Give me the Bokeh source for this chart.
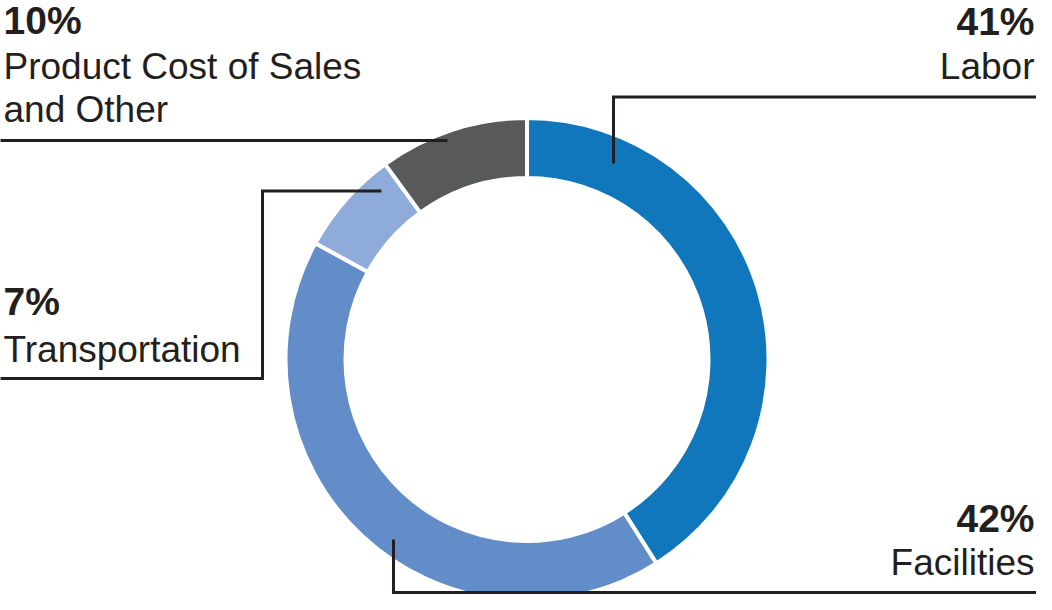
import numpy as np
from bokeh.plotting import figure
from bokeh.models import Range1d, ColumnDataSource
from bokeh.embed import file_html
from bokeh.resources import INLINE
from bokeh.core.properties import value

# ---- data ----
categories = ["Labor", "Facilities", "Transportation", "Product Cost of Sales\nand Other"]
shares = [41, 42, 7, 10]
colors = ["#1177bd", "#628dc9", "#8eabda", "#58595b"]

# ---- layout (figure pixel coordinates; y measured downward) ----
W, H = 1036, 594
cx, cy = 526.5, 359.0
r_outer, r_inner = 239.5, 183.5
gap = 4
ink = "#231f20"
font = "Liberation Sans"
bold_shift, reg_shift = 14, 13   # renderer places alphabetic baseline lower by this much

p = figure(width=W, height=H,
           x_range=Range1d(0, W), y_range=Range1d(-H, 0),
           x_axis_location=None, y_axis_location=None,
           output_backend="svg", toolbar_location=None, min_border=0)
p.grid.visible = False
p.outline_line_color = None
p.background_fill_color = "white"
p.border_fill_color = "white"

# ---- donut ----
vals = np.array(shares, dtype=float)
frac = vals / vals.sum()
cum = np.concatenate([[0.0], np.cumsum(frac)])
start = np.radians(90.0 - cum[:-1] * 360.0)
end = np.radians(90.0 - cum[1:] * 360.0)
src = ColumnDataSource(dict(start=start, end=end, color=colors,
                            cat=categories, share=shares))
p.annular_wedge(x=cx, y=-cy, inner_radius=r_inner - gap / 2,
                outer_radius=r_outer + gap / 2,
                start_angle="start", end_angle="end", direction="clock",
                fill_color="color", line_color="white", line_width=gap,
                source=src)

# ---- leader lines (callout positions) ----
leaders = {
    "Labor": ([613, 613, W + 2], [163, 96.5, 96.5]),
    "Facilities": ([393, 393, W + 2], [539, 592, 592]),
    "Transportation": ([-2, 262, 262, 381], [378, 378, 190.5, 190.5]),
    "Product Cost of Sales\nand Other": ([-2, 447], [140, 140]),
}
xs = [leaders[c][0] for c in categories]
ys = [[-v for v in leaders[c][1]] for c in categories]
p.multi_line(xs=xs, ys=ys, line_color=ink, line_width=3, line_join="miter")

# ---- labels: anchor x, alignment, baseline of percent line, baseline of first name line ----
label_pos = {
    "Labor": (1034, "right", 35, 79),
    "Facilities": (1034, "right", 531.5, 575),
    "Transportation": (3, "left", 315, 361.5),
    "Product Cost of Sales\nand Other": (3, "left", 34, 79),
}
line_step = 43

px, py, pt, pa = [], [], [], []
nx, ny, nt, na = [], [], [], []
for c, s in zip(categories, shares):
    x, align, yb, yn = label_pos[c]
    px.append(x); py.append(-(yb - bold_shift)); pt.append(f"{s}%"); pa.append(align)
    for i, line in enumerate(c.split("\n")):
        nx.append(x); ny.append(-(yn + i * line_step - reg_shift)); nt.append(line); na.append(align)

p.text(x=px, y=py, text=pt, text_align=pa, text_baseline="alphabetic",
       text_font=value(font), text_font_style="bold", text_font_size="39px",
       text_color=ink)
p.text(x=nx, y=ny, text=nt, text_align=na, text_baseline="alphabetic",
       text_font=value(font), text_font_size="37px", text_color=ink)

open("out.html", "w").write(file_html(p, INLINE))
